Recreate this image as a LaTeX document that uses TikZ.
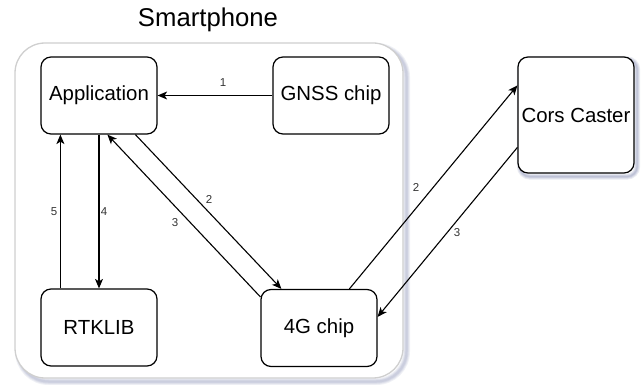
\documentclass[tikz,border=0pt]{standalone}
\usepackage{fontspec}
\setmainfont{Liberation Sans}
\usetikzlibrary{arrows.meta,calc}
\definecolor{frame}{HTML}{CFCFCF}
\definecolor{shade}{HTML}{7E86AE}
\definecolor{lbl}{HTML}{333333}
\pgfdeclarelayer{bg}
\pgfsetlayers{bg,main}
\tikzset{
  box/.style={draw=black, line width=1.2pt, rounded corners=10pt, fill=white,
    minimum width=116pt, minimum height=77pt, inner sep=0pt,
    font=\fontsize{20.4pt}{24pt}\selectfont},
  link/.style={line width=1.1pt, -{Stealth[length=9.5pt,width=8pt,inset=2.5pt]}},
  num/.style={font=\fontsize{11.5pt}{13pt}\selectfont, text=lbl, inner sep=1pt},
  halo/.style={draw=shade, opacity=0.12},
}
\begin{document}
\begin{tikzpicture}[x=1pt,y=-1pt]
\useasboundingbox (0,0) rectangle (641,385);

% soft shadow of the phone outline
\foreach \w in {7,5,3.5,2}
  \draw[halo, line width=\w pt, rounded corners=30pt] (18.5,46.5) rectangle (406.5,381.5);
% phone outline
\draw[frame, line width=1.3pt, rounded corners=30pt, fill=white]
  (15,43) rectangle (403,378);

\node[font=\fontsize{25.7pt}{30pt}\selectfont] (title) at (208,20) {Smartphone};

% components
\node[box] (app) at (99,95.5) {Application};
\node[box] (gnss) at (331,95.5) {GNSS chip};
\node[box] (rtk) at (99,327.5) {RTKLIB};
\node[box] (lte) at (319,328) {4G chip};
\node[box, minimum height=116pt] (cors) at (576,115) {Cors Caster};

% shadow under the caster box
\begin{pgfonlayer}{bg}
  \foreach \w in {6,4,2.5,1.2}
    \draw[halo, opacity=0.16, line width=\w pt, rounded corners=10pt]
      ($(cors.north west)+(2.5,3)$) rectangle ($(cors.south east)+(2.5,3)$);
\end{pgfonlayer}

% data flows
\draw[link] (gnss.west) -- (app.east);
\draw[link] ($(rtk.north west)+(20,0)$) -- ($(app.south west)+(20,0)$);
\draw[link] (app.south) -- (rtk.north);
\draw[link] ($(lte.north west)+(0,8)$) -- ($(app.south west)+(67,0)$);
\draw[link] ($(app.south west)+(95,0)$) -- ($(lte.north west)+(21,0)$);
\draw[link] ($(lte.north west)+(89,0)$) -- ($(cors.north west)+(0,29)$);
\draw[link] ($(cors.north west)+(0,91)$) -- ($(lte.north east)+(0,28)$);

% step numbers
\node[num] (n1) at (223,83) {1};
\node[num] (n5) at (54,212) {5};
\node[num] (n4) at (104,212) {4};
\node[num] (n3a) at (175,223) {3};
\node[num] (n2a) at (209,199) {2};
\node[num] (n2b) at (416,187) {2};
\node[num] (n3b) at (457,233) {3};
\end{tikzpicture}
\end{document}
